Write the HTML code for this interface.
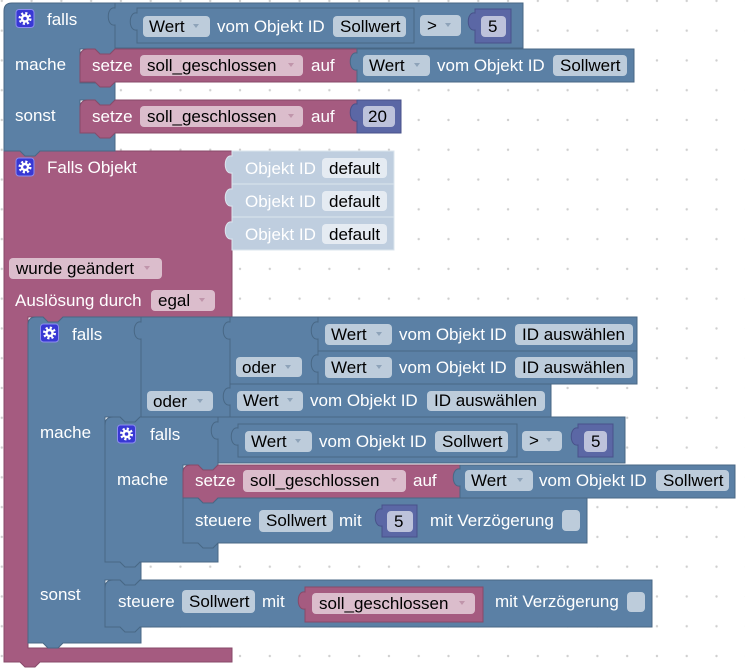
<!DOCTYPE html>
<html><head><meta charset="utf-8"><style>
html,body{margin:0;padding:0;background:#fff;}
svg{display:block;}
text{font-family:"Liberation Sans",Arial,sans-serif;font-size:17px;}
.w{fill:#fff;}
.k{fill:#000;}
.b{fill:#5b80a5;stroke:#486785;stroke-width:1;}
.p{fill:#a55b80;stroke:#874a69;stroke-width:1;}
.n{fill:#5b67a5;stroke:#48528a;stroke-width:1;}
.l{fill:#bfcedf;stroke:#dbe5ee;stroke-width:1;}
.fb{fill:#bdccdb;}
.fp{fill:#dbbdcc;}
.fn{fill:#bdc2db;}
.fl{fill:#e5ebf2;}
.ab{fill:#8ea3b9;}
.ap{fill:#c095ab;}
</style></head><body>
<svg width="745" height="672" viewBox="0 0 745 672" xmlns="http://www.w3.org/2000/svg">
<defs>
<pattern id="g" x="-13.1" y="-14" width="29.78" height="29.78" patternUnits="userSpaceOnUse">
<circle cx="14.89" cy="14.89" r="1.2" fill="#cfcfcf"/>
</pattern>
</defs>
<rect width="745" height="672" fill="#fff"/>
<rect width="745" height="672" fill="url(#g)"/>

<!-- Block 2: Falls Objekt (pink) -->
<path class="p" d="M4,151 H232 V317 H63 l-5,5 h-10 l-5,-5 H28 V648 H232 V662 H40 l-5,5 h-10 l-5,-5 H4 Z"/>
<path class="l" d="M232,151 H394 V184 H232 V173 C223,175 223,154 232,156 Z"/>
<path class="l" d="M232,184 H394 V217 H232 V206 C223,208 223,187 232,189 Z"/>
<path class="l" d="M232,217 H394 V250 H232 V239 C223,241 223,220 232,222 Z"/>
<g transform="translate(25,167)"><rect x="-9" y="-9" width="18" height="18" rx="3" fill="#3838d4" stroke="#8c8cf0"/><circle r="5.2" fill="none" stroke="#fff" stroke-width="2.6" stroke-dasharray="2.1 2"/><circle r="4.2" fill="#fff"/><circle r="1.8" fill="#3838d4"/></g>
<text class="w" x="47" y="173">Falls Objekt</text>
<text class="w" x="245" y="174">Objekt ID</text>
<rect class="fl" x="322" y="158" width="65" height="20" rx="4"/><text class="k" x="329" y="174">default</text>
<text class="w" x="245" y="207">Objekt ID</text>
<rect class="fl" x="322" y="191" width="65" height="20" rx="4"/><text class="k" x="329" y="207">default</text>
<text class="w" x="245" y="240">Objekt ID</text>
<rect class="fl" x="322" y="224" width="65" height="20" rx="4"/><text class="k" x="329" y="240">default</text>
<rect class="fp" x="9" y="258" width="153" height="21" rx="4"/><text class="k" x="16" y="274">wurde geändert</text>
<polygon class="ap" points="144,266 150,266 147,270"/>
<text class="w" x="15" y="306">Auslösung durch</text>
<rect class="fp" x="151" y="290" width="64" height="21" rx="4"/><text class="k" x="158" y="306">egal</text>
<polygon class="ap" points="199,298 205,298 202,302"/>

<!-- Block 1: falls / mache / sonst -->
<path class="b" d="M4,11 Q4,3 12,3 H115 V49 l-5,5 h-10 l-5,-5 H80 V83 H115 V100 l-5,5 h-10 l-5,-5 H80 V133 H115 V151 H40 l-5,5 h-10 l-5,-5 H4 Z"/>
<g transform="translate(25,18.5)"><rect x="-9" y="-9" width="18" height="18" rx="3" fill="#3838d4" stroke="#8c8cf0"/><circle r="5.2" fill="none" stroke="#fff" stroke-width="2.6" stroke-dasharray="2.1 2"/><circle r="4.2" fill="#fff"/><circle r="1.8" fill="#3838d4"/></g>
<text class="w" x="47" y="25">falls</text>
<text class="w" x="15" y="70">mache</text>
<text class="w" x="15" y="121">sonst</text>
<!-- compare 1 -->
<path class="b" d="M115,3 H523 V48 H115 V25 C106,27 106,6 115,8 Z"/>
<path class="b" d="M137,8 H414 V43 H137 V30 C128,32 128,11 137,13 Z"/>
<rect class="fb" x="143" y="16" width="67" height="21" rx="4"/><text class="k" x="149" y="32">Wert</text>
<polygon class="ab" points="193,24 199,24 196,28"/>
<text class="w" x="217" y="32">vom Objekt ID</text>
<rect class="fb" x="333" y="16" width="73" height="21" rx="4"/><text class="k" x="340" y="32">Sollwert</text>
<rect class="fb" x="420" y="15" width="41" height="21" rx="4"/><text class="k" x="427" y="31">&gt;</text>
<polygon class="ab" points="445,23 451,23 448,27"/>
<path class="n" d="M475,9 H511 V43 H475 V30 C466,32 466,11 475,13 Z"/>
<rect class="fn" x="481" y="16" width="25" height="21" rx="4"/><text class="k" x="488" y="32">5</text>
<!-- setze 1 -->
<path class="p" d="M80,57 Q80,49 88,49 H95 l5,5 h10 l5,-5 H357 V82 H115 l-5,5 h-10 l-5,-5 H80 Z"/>
<text class="w" x="92" y="71">setze</text>
<rect class="fp" x="140" y="55" width="163" height="21" rx="4"/><text class="k" x="147" y="71">soll_geschlossen</text>
<polygon class="ap" points="288,63 294,63 291,67"/>
<text class="w" x="311" y="71">auf</text>
<path class="b" d="M357,49 H634 V82 H357 V70 C348,72 348,51 357,53 Z"/>
<rect class="fb" x="363" y="55" width="67" height="21" rx="4"/><text class="k" x="369" y="71">Wert</text>
<polygon class="ab" points="414,63 420,63 417,67"/>
<text class="w" x="437" y="71">vom Objekt ID</text>
<rect class="fb" x="553" y="55" width="74" height="21" rx="4"/><text class="k" x="560" y="71">Sollwert</text>
<!-- setze 2 -->
<path class="p" d="M80,108 Q80,100 88,100 H95 l5,5 h10 l5,-5 H357 V133 H115 l-5,5 h-10 l-5,-5 H80 Z"/>
<text class="w" x="92" y="122">setze</text>
<rect class="fp" x="140" y="106" width="163" height="21" rx="4"/><text class="k" x="147" y="122">soll_geschlossen</text>
<polygon class="ap" points="288,114 294,114 291,118"/>
<text class="w" x="311" y="122">auf</text>
<path class="n" d="M357,100 H401 V133 H357 V121 C348,123 348,102 357,104 Z"/>
<rect class="fn" x="363" y="106" width="32" height="21" rx="4"/><text class="k" x="368" y="122">20</text>

<!-- Block 3: falls / mache / sonst (inner) -->
<path class="b" d="M28,325 Q28,317 36,317 H43 l5,5 h10 l5,-5 H141 V417 H140 l-5,5 h-10 l-5,-5 H105 V562 H141 V580 H140 l-5,5 h-10 l-5,-5 H105 V627 H141 V643 H63 l-5,5 h-10 l-5,-5 H28 Z"/>
<g transform="translate(49.5,333)"><rect x="-9" y="-9" width="18" height="18" rx="3" fill="#3838d4" stroke="#8c8cf0"/><circle r="5.2" fill="none" stroke="#fff" stroke-width="2.6" stroke-dasharray="2.1 2"/><circle r="4.2" fill="#fff"/><circle r="1.8" fill="#3838d4"/></g>
<text class="w" x="72" y="340">falls</text>
<text class="w" x="40" y="438">mache</text>
<text class="w" x="40" y="600">sonst</text>
<!-- outer oder -->
<path class="b" d="M141,317 H230 V417 H141 V339 C132,341 132,320 141,322 Z"/>
<rect class="fb" x="147" y="391" width="66" height="20" rx="4"/><text class="k" x="153" y="407">oder</text>
<polygon class="ab" points="197,399 203,399 200,403"/>
<!-- inner oder -->
<path class="b" d="M230,317 H318 V384 H230 V339 C221,341 221,320 230,322 Z"/>
<rect class="fb" x="236" y="357" width="66" height="20" rx="4"/><text class="k" x="242" y="373">oder</text>
<polygon class="ab" points="285,365 291,365 288,369"/>
<!-- Wert A -->
<path class="b" d="M318,317 H637 V351 H318 V339 C309,341 309,320 318,322 Z"/>
<rect class="fb" x="325" y="324" width="67" height="21" rx="4"/><text class="k" x="331" y="340">Wert</text>
<polygon class="ab" points="376,332 382,332 379,336"/>
<text class="w" x="399" y="340">vom Objekt ID</text>
<rect class="fb" x="515" y="324" width="118" height="21" rx="4"/><text class="k" x="522" y="340">ID auswählen</text>
<!-- Wert B -->
<path class="b" d="M318,351 H637 V384 H318 V372 C309,374 309,353 318,355 Z"/>
<rect class="fb" x="325" y="357" width="67" height="21" rx="4"/><text class="k" x="331" y="373">Wert</text>
<polygon class="ab" points="376,365 382,365 379,369"/>
<text class="w" x="399" y="373">vom Objekt ID</text>
<rect class="fb" x="515" y="357" width="118" height="21" rx="4"/><text class="k" x="522" y="373">ID auswählen</text>
<!-- Wert C -->
<path class="b" d="M230,384 H551 V417 H230 V405 C221,407 221,386 230,388 Z"/>
<rect class="fb" x="237" y="391" width="66" height="20" rx="4"/><text class="k" x="243" y="406">Wert</text>
<polygon class="ab" points="287,398 293,398 290,402"/>
<text class="w" x="310" y="406">vom Objekt ID</text>
<rect class="fb" x="427" y="391" width="118" height="20" rx="4"/><text class="k" x="434" y="406">ID auswählen</text>

<!-- Block 4: falls / mache (innermost) -->
<path class="b" d="M105,425 Q105,417 113,417 H120 l5,5 h10 l5,-5 H218 V465 l-5,5 h-10 l-5,-5 H183 V543 H218 V562 H140 l-5,5 h-10 l-5,-5 H105 Z"/>
<g transform="translate(126.5,434)"><rect x="-9" y="-9" width="18" height="18" rx="3" fill="#3838d4" stroke="#8c8cf0"/><circle r="5.2" fill="none" stroke="#fff" stroke-width="2.6" stroke-dasharray="2.1 2"/><circle r="4.2" fill="#fff"/><circle r="1.8" fill="#3838d4"/></g>
<text class="w" x="150" y="440">falls</text>
<text class="w" x="117" y="485">mache</text>
<!-- compare 2 -->
<path class="b" d="M218,417 H625 V463 H218 V439 C209,441 209,420 218,422 Z"/>
<path class="b" d="M238,424 H517 V457 H238 V445 C229,447 229,426 238,428 Z"/>
<rect class="fb" x="245" y="431" width="67" height="21" rx="4"/><text class="k" x="251" y="447">Wert</text>
<polygon class="ab" points="295,439 301,439 298,443"/>
<text class="w" x="319" y="447">vom Objekt ID</text>
<rect class="fb" x="435" y="431" width="73" height="21" rx="4"/><text class="k" x="442" y="447">Sollwert</text>
<rect class="fb" x="522" y="431" width="40" height="20" rx="4"/><text class="k" x="529" y="446">&gt;</text>
<polygon class="ab" points="546,438 552,438 549,442"/>
<path class="n" d="M578,424 H613 V457 H578 V445 C569,447 569,426 578,428 Z"/>
<rect class="fn" x="584" y="431" width="23" height="21" rx="4"/><text class="k" x="591" y="447">5</text>
<!-- setze 4 -->
<path class="p" d="M183,473 Q183,465 191,465 H198 l5,5 h10 l5,-5 H460 V498 H218 l-5,5 h-10 l-5,-5 H183 Z"/>
<text class="w" x="195" y="486">setze</text>
<rect class="fp" x="243" y="470" width="163" height="22" rx="4"/><text class="k" x="250" y="486">soll_geschlossen</text>
<polygon class="ap" points="391,478 397,478 394,482"/>
<text class="w" x="413" y="486">auf</text>
<path class="b" d="M460,465 H735 V498 H460 V486 C451,488 451,467 460,469 Z"/>
<rect class="fb" x="465" y="470" width="68" height="21" rx="4"/><text class="k" x="471" y="486">Wert</text>
<polygon class="ab" points="517,478 523,478 520,482"/>
<text class="w" x="539" y="486">vom Objekt ID</text>
<rect class="fb" x="656" y="470" width="73" height="21" rx="4"/><text class="k" x="663" y="486">Sollwert</text>
<!-- steuere 4 -->
<path class="b" d="M183,498 H198 l5,5 h10 l5,-5 H587 V543 H218 l-5,5 h-10 l-5,-5 H183 Z"/>
<text class="w" x="195" y="526">steuere</text>
<rect class="fb" x="259" y="510" width="74" height="22" rx="4"/><text class="k" x="266" y="526">Sollwert</text>
<text class="w" x="339" y="526">mit</text>
<path class="n" d="M382,505 H417 V537 H382 V526 C373,528 373,507 382,509 Z"/>
<rect class="fn" x="387" y="511" width="26" height="21" rx="4"/><text class="k" x="394" y="527">5</text>
<text class="w" x="430" y="526">mit Verzögerung</text>
<rect class="fb" x="562" y="510" width="18" height="21" rx="4"/>

<!-- steuere 3 (sonst) -->
<path class="b" d="M105,588 Q105,580 113,580 H120 l5,5 h10 l5,-5 H652 V627 H140 l-5,5 h-10 l-5,-5 H105 Z"/>
<text class="w" x="118" y="607">steuere</text>
<rect class="fb" x="182" y="590" width="73" height="23" rx="4"/><text class="k" x="189" y="607">Sollwert</text>
<text class="w" x="262" y="607">mit</text>
<path class="p" d="M305,587 H483 V622 H305 V609 C296,611 296,590 305,592 Z"/>
<rect class="fp" x="312" y="593" width="163" height="21" rx="4"/><text class="k" x="319" y="609">soll_geschlossen</text>
<polygon class="ap" points="459,601 465,601 462,605"/>
<text class="w" x="495" y="607">mit Verzögerung</text>
<rect class="fb" x="627" y="592" width="18" height="20" rx="4"/>
</svg>
</body></html>
